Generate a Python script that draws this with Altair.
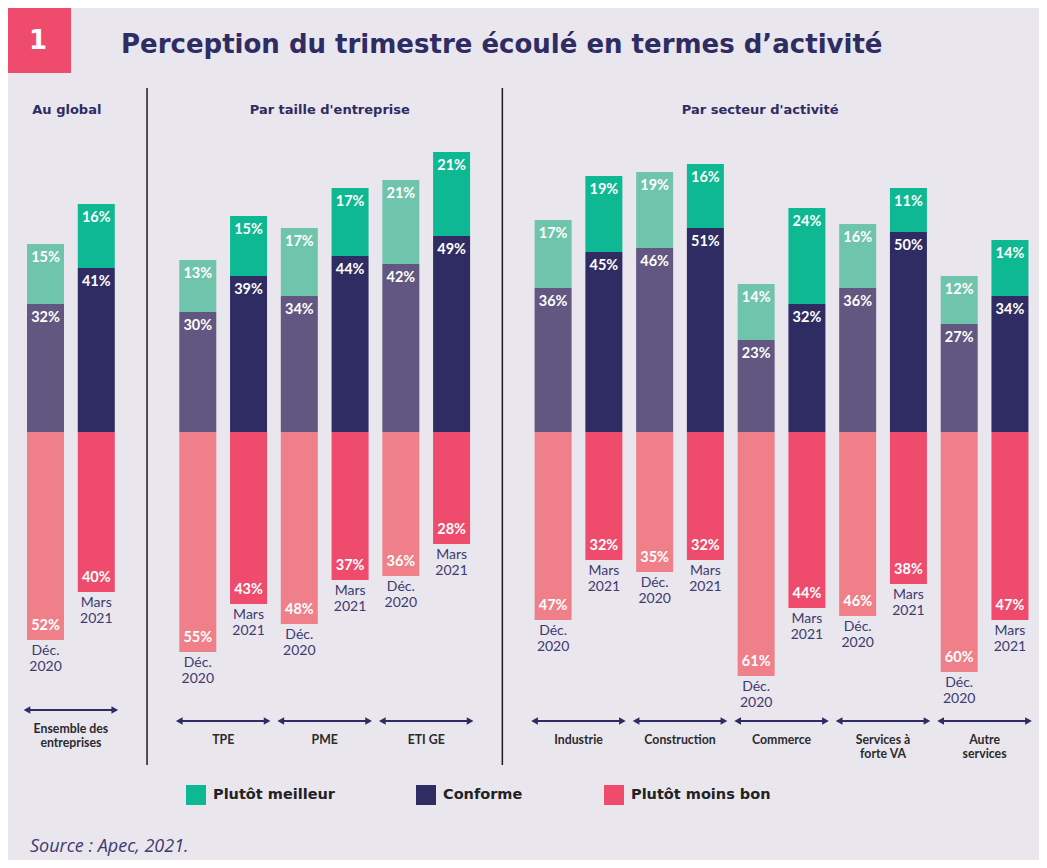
import altair as alt
import pandas as pd

# ---------------- data ----------------
groups = ["Ensemble des entreprises", "TPE", "PME", "ETI GE", "Industrie",
          "Construction", "Commerce", "Services à forte VA", "Autre services"]
group_labels = ["Ensemble des\nentreprises", "TPE", "PME", "ETI GE", "Industrie",
                "Construction", "Commerce", "Services à\nforte VA", "Autre\nservices"]
periods = ["Déc.\n2020", "Mars\n2021"]
categories = ["Plutôt meilleur", "Conforme", "Plutôt moins bon"]

dec_meilleur = [15, 13, 17, 21, 17, 19, 14, 16, 12]
dec_conforme = [32, 30, 34, 42, 36, 46, 23, 36, 27]
dec_moins = [52, 55, 48, 36, 47, 35, 61, 46, 60]
mars_meilleur = [16, 15, 17, 21, 19, 16, 24, 11, 14]
mars_conforme = [41, 39, 44, 49, 45, 51, 32, 50, 34]
mars_moins = [40, 43, 37, 28, 32, 32, 44, 38, 47]

headers = ["Au global", "Par taille d'entreprise", "Par secteur d'activité"]
title_text = "Perception du trimestre écoulé en termes d’activité"
source_text = "Source : Apec, 2021."

# ---------------- layout (slot index of the Déc. bar of each group) ----------------
group_slot = [0, 3, 5, 7, 10, 12, 14, 16, 18]
separator_slot = [2, 9]
header_slot = [0.42, 5.6, 14.08]

FONT = "Lato"
WIDE = "DejaVu Sans"
NAVY = "#2e2c63"
BG = "#e9e6ee"
W, H = 1031, 852
STEP = 50.76
X0 = -0.739
xs = alt.Scale(domain=[X0, X0 + W / STEP], nice=False, zero=False, padding=0)
ys = alt.Scale(domain=[-107, 106], nice=False, zero=False, padding=0)


def XQ(f):
    return alt.X(f, type="quantitative", scale=xs, axis=None)


def YQ(f):
    return alt.Y(f, type="quantitative", scale=ys, axis=None)


color_keys = ["Plutôt meilleur", "Conforme", "Plutôt moins bon",
              "Plutôt meilleur (Déc.)", "Conforme (Déc.)", "Plutôt moins bon (Déc.)"]
color_range = ["#0db893", "#2f2c63", "#ef4b6c", "#6fc4ac", "#615781", "#ef8089"]

rows, bar_rows = [], []
series = {0: (dec_meilleur, dec_conforme, dec_moins), 1: (mars_meilleur, mars_conforme, mars_moins)}
for gi, g in enumerate(groups):
    for pi, p in enumerate(periods):
        m, c, n = (s[gi] for s in series[pi])
        slot = group_slot[gi] + pi
        suffix = "" if pi == 1 else " (Déc.)"
        rows.append(dict(slot=slot, cat="Plutôt meilleur" + suffix, y0=c, y1=c + m, label=f"{m}%", sign=1))
        rows.append(dict(slot=slot, cat="Conforme" + suffix, y0=0, y1=c, label=f"{c}%", sign=1))
        rows.append(dict(slot=slot, cat="Plutôt moins bon" + suffix, y0=-n, y1=0, label=f"{n}%", sign=-1))
        bar_rows.append(dict(slot=slot, bottom=-n, period=p))
df = pd.DataFrame(rows)
bdf = pd.DataFrame(bar_rows)

bars = alt.Chart(df).mark_bar(size=37).encode(
    x=XQ("slot"),
    y=YQ("y0"),
    y2="y1:Q",
    color=alt.Color("cat:N", scale=alt.Scale(domain=color_keys, range=color_range),
                    legend=alt.Legend(title=None, orient="none", legendX=178, legendY=777,
                                      direction="horizontal", values=categories,
                                      symbolType="square", symbolSize=400, symbolStrokeWidth=0,
                                      symbolOpacity=1, labelFont=WIDE, labelFontSize=14.5,
                                      labelFontWeight="bold", labelColor="#222222", labelOffset=7,
                                      columnPadding=81, padding=0)),
)

pos_labels = alt.Chart(df[df.sign > 0]).mark_text(
    dy=13.5, color="white", fontWeight="bold", fontSize=14.5, font=FONT, baseline="middle"
).encode(x=XQ("slot"), y=YQ("y1"), text="label:N")

neg_labels = alt.Chart(df[df.sign < 0]).mark_text(
    dy=-14, color="white", fontWeight="bold", fontSize=14.5, font=FONT, baseline="middle"
).encode(x=XQ("slot"), y=YQ("y0"), text="label:N")

time_labels = alt.Chart(bdf).mark_text(
    baseline="top", dy=4, lineBreak="\n", lineHeight=16, fontSize=14, font=FONT, color="#3d3a70"
).encode(x=XQ("slot"), y=YQ("bottom"), text="period:N")

sep_df = pd.DataFrame(dict(slot=separator_slot, ytop=[86] * 2, ybot=[-83.25] * 2))
seps = alt.Chart(sep_df).mark_rule(strokeWidth=1.5, color="#1c1c1c").encode(
    x=XQ("slot"), y=YQ("ytop"), y2="ybot:Q")

arr_df = pd.DataFrame(dict(
    x0=[s - 0.365 for s in group_slot],
    x1=[s + 1.365 for s in group_slot],
    mid=[s + 0.5 for s in group_slot],
    ya=[-69.5] + [-72.25] * 8,
    yl=[-72.75] + [-75.5] * 8,
    glabel=group_labels,
))
arrow_line = alt.Chart(arr_df).mark_rule(strokeWidth=2, color=NAVY).encode(
    x=XQ("x0"), x2="x1:Q", y=YQ("ya"))
head_l = alt.Chart(arr_df).mark_point(
    shape="triangle-left", filled=True, size=60, color=NAVY, opacity=1
).encode(x=XQ("x0"), y=YQ("ya"))
head_r = alt.Chart(arr_df).mark_point(
    shape="triangle-right", filled=True, size=60, color=NAVY, opacity=1
).encode(x=XQ("x1"), y=YQ("ya"))
glabels = alt.Chart(arr_df).mark_text(
    baseline="top", lineBreak="\n", lineHeight=14, fontSize=12.3, fontWeight="bold",
    font=FONT, color="#2b2b2b"
).encode(x=XQ("mid"), y=YQ("yl"), text="glabel:N")

hdr_df = pd.DataFrame(dict(slot=header_slot, y=[80.5] * 3, h=headers))
hdrs = alt.Chart(hdr_df).mark_text(
    baseline="middle", fontSize=13, fontWeight="bold", font=WIDE, color=NAVY
).encode(x=XQ("slot"), y=YQ("y"), text="h:N")

one = pd.DataFrame({"t": ["1"]})
box = alt.Chart(one).mark_rect(color="#ef4b6c").encode(
    x=alt.value(0), x2=alt.value(63), y=alt.value(0), y2=alt.value(65))
box_txt = alt.Chart(one).mark_text(
    color="white", fontSize=26, fontWeight="bold", font=WIDE, baseline="middle"
).encode(x=alt.value(30), y=alt.value(33), text="t:N")
title = alt.Chart(pd.DataFrame({"t": [title_text]})).mark_text(
    align="left", baseline="middle", fontSize=26, fontWeight="bold", font=WIDE, color=NAVY
).encode(x=alt.value(113), y=alt.value(37), text="t:N")
source = alt.Chart(pd.DataFrame({"t": [source_text]})).mark_text(
    align="left", baseline="middle", fontSize=18, fontStyle="italic", font="Open Sans", color="#3d3a70"
).encode(x=alt.value(22), y=alt.value(839), text="t:N")

chart = alt.layer(
    seps, bars, pos_labels, neg_labels, time_labels,
    arrow_line, head_l, head_r, glabels, hdrs, box, box_txt, title, source
).properties(
    width=W, height=H, background=BG, padding=0,
    autosize=alt.AutoSizeParams(type="none"),
).configure_view(stroke=None)

chart.save("out.html", embed_options={"renderer": "svg", "actions": False})
